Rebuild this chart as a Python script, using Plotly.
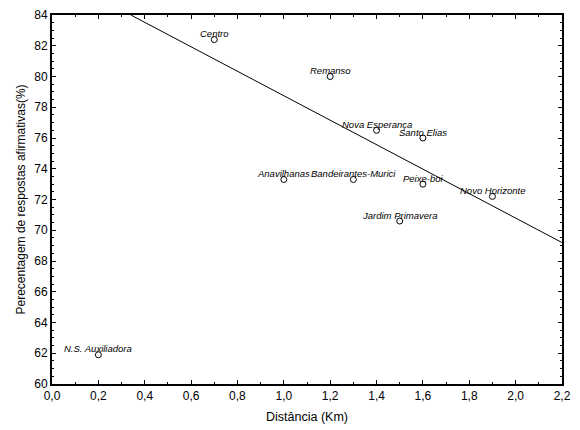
import plotly.graph_objects as go

# DATA
locais = ["Centro", "Remanso", "Nova Esperança", "Santo Elias", "Anavilhanas",
          "Bandeirantes-Murici", "Peixe-boi", "Novo Horizonte", "Jardim Primavera",
          "N.S. Auxiliadora"]
distancia = [0.7, 1.2, 1.4, 1.6, 1.0, 1.3, 1.6, 1.9, 1.5, 0.2]
percentagem = [82.4, 80.0, 76.5, 76.0, 73.3, 73.3, 73.0, 72.2, 70.6, 61.9]

# regression line as drawn (ends)
linha_x = [0.34, 2.2]
linha_y = [84.0, 69.2]

titulo_x = "Distância (Km)"
titulo_y = "Perecentagem de respostas afirmativas(%)"

FONT = "Arial, Liberation Sans, sans-serif"

# CREATE FIGURE
fig = go.Figure()
fig.add_trace(go.Scatter(x=linha_x, y=linha_y, mode="lines",
                         line=dict(color="black", width=1), hoverinfo="skip"))
fig.add_trace(go.Scatter(x=distancia, y=percentagem, mode="markers", text=locais,
                         marker=dict(symbol="circle-open", size=6, color="black",
                                     line=dict(width=1))))

# labels (italic, slightly above each point)
for nome, xv, yv in zip(locais, distancia, percentagem):
    fig.add_annotation(x=xv, y=yv, text="<i>" + nome + "</i>", showarrow=False,
                       yshift=6, font=dict(family=FONT, size=9.5, color="black"))

# axis titles as annotations (pixel control)
fig.add_annotation(x=0.5, y=0, xref="paper", yref="paper", text=titulo_x,
                   showarrow=False, yshift=-33, yanchor="middle",
                   font=dict(family=FONT, size=12.5, color="black"))
fig.add_annotation(x=0, y=0.5, xref="paper", yref="paper", text=titulo_y,
                   showarrow=False, xshift=-32, xanchor="center", textangle=-90,
                   font=dict(family=FONT, size=12, color="black"))

# LAYOUT (page body adds 8px margin, so figure is shrunk/offset to fit)
eixo = dict(showline=True, linewidth=2, linecolor="black", mirror="allticks",
            ticks="inside", ticklen=4, tickwidth=1, tickcolor="black",
            showgrid=False, zeroline=False, automargin=False,
            tickfont=dict(family=FONT, size=12, color="black"))
fig.update_layout(
    width=564, height=420,
    margin=dict(l=44, r=10, t=7, b=44),
    paper_bgcolor="white", plot_bgcolor="white",
    showlegend=False, separators=", ",
    xaxis=dict(eixo, range=[0, 2.2], dtick=0.2, tickformat=".1f",
               minor=dict(dtick=0.1, ticks="inside", ticklen=2, tickcolor="black")),
    yaxis=dict(eixo, range=[60, 84], dtick=2,
               minor=dict(dtick=0.5, ticks="inside", ticklen=2, tickcolor="black")),
)

fig.write_html("out.html")
